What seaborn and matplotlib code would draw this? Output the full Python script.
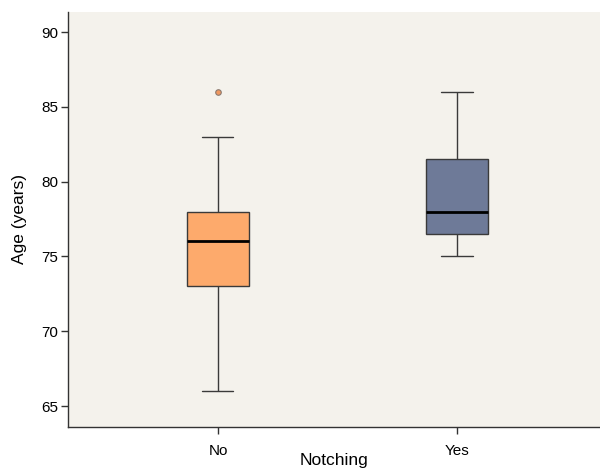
import pandas as pd
import numpy as np
import matplotlib.pyplot as plt
import seaborn as sns

# ages per group (quartiles, whiskers, outlier)
age_no = [66, 70, 72, 73, 74, 75, 76, 77, 77, 78, 80, 83, 86]
age_yes = [75, 76, 76, 77, 77, 78, 79, 81, 82, 84, 86]
groups = ['No', 'Yes']
box_colors = ['#FDAA6C', '#6E7A98']

df = pd.DataFrame({
    'Notching': ['No'] * len(age_no) + ['Yes'] * len(age_yes),
    'Age': age_no + age_yes,
})

sns.set_style('white')
plt.rcParams['font.family'] = ['Liberation Sans', 'DejaVu Sans']

fig = plt.figure(figsize=(6, 4.69), dpi=100)
ax = fig.add_axes([0.113, 0.0896, 0.887, 0.8848])
ax.set_facecolor('#F4F2EC')

sns.boxplot(data=df, x='Notching', y='Age', hue='Notching', order=groups,
            palette=dict(zip(groups, box_colors)), saturation=1, width=0.26,
            legend=False, linewidth=1.0, linecolor='#3a3a3a',
            medianprops={'color': 'black', 'linewidth': 2},
            flierprops={'marker': 'o', 'markersize': 4, 'markerfacecolor': '#F09860',
                        'markeredgecolor': '#8a7a70', 'markeredgewidth': 0.8},
            ax=ax)

ax.set_xlim(-0.628, 1.598)
ax.set_ylim(63.6, 91.34)
ax.set_yticks([65, 70, 75, 80, 85, 90])
ax.tick_params(axis='both', direction='out', length=5, width=1, color='#333333',
               labelsize=11, labelcolor='black', left=True, bottom=True)
ax.tick_params(axis='x', pad=7)
ax.tick_params(axis='y', pad=2)
for s in ['top', 'right']:
    ax.spines[s].set_visible(False)
for s in ['left', 'bottom']:
    ax.spines[s].set_color('#333333')
    ax.spines[s].set_linewidth(1)

ax.set_xlabel('Notching', fontsize=12.5, labelpad=-3, color='black')
ax.set_ylabel('Age (years)', fontsize=12.5, labelpad=10, color='black')

fig.savefig('out.png', dpi=100)
